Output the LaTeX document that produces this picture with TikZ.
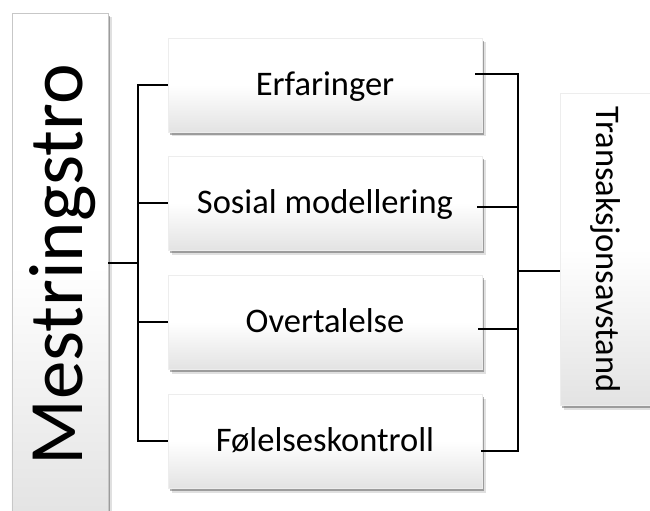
\documentclass[tikz,border=0pt]{standalone}
\usepackage{fontspec}
\setmainfont{Carlito}
\usetikzlibrary{shadows}
\begin{document}
\begin{tikzpicture}[x=1bp,y=-1bp,
  box/.style={inner sep=0pt, top color=white, bottom color=black!11, middle color=white,
    draw=black!7, line width=0.4bp,
    drop shadow={shadow xshift=3.5bp, shadow yshift=-4.5bp, opacity=0.12, fill=black},
    drop shadow={shadow xshift=2bp, shadow yshift=-3bp, opacity=0.3, fill=black}},
  conn/.style={line width=1.3bp, draw=black},
  midtext/.style={font=\fontsize{34.5bp}{40bp}\selectfont, text height=21.5bp, text depth=0bp},
  vtext/.style={inner sep=0pt, text depth=0bp}]
\clip (0,0) rectangle (650,511);
% left tall box
\node[box, draw=black!22, minimum width=96bp, minimum height=506bp] (mb) at (60,266) {};
\node[vtext, rotate=90, font=\fontsize{77bp}{80bp}\selectfont, text height=49.5bp] (mt) at (57.5,265) {Mestringstro};
% middle boxes
\node[box, midtext, minimum width=314bp, minimum height=94bp] (e) at (325,85) {Erfaringer};
\node[box, midtext, minimum width=314bp, minimum height=94bp] (s) at (325,203) {Sosial modellering};
\node[box, midtext, minimum width=314bp, minimum height=94bp] (o) at (325,322) {Overtalelse};
\node[box, midtext, minimum width=314bp, minimum height=94bp] (f) at (325,441) {Følelseskontroll};
% right box
\node[box, minimum width=92bp, minimum height=312bp] (t) at (606,249) {};
\node[vtext, rotate=-90, font=\fontsize{34.5bp}{40bp}\selectfont, text height=22bp] (tt) at (607.5,249.5) {Transaksjonsavstand};
% left bracket
\coordinate (lv) at (138,263);
\draw[conn] (mb.east |- lv) -- (lv);
\draw[conn] (e.west) -- (e.west -| lv) -- (f.west -| lv) -- (f.west);
\draw[conn] (s.west) -- (s.west -| lv);
\draw[conn] (o.west) -- (o.west -| lv);
% right bracket
\coordinate (rv) at (518,271);
\coordinate (ea) at ([xshift=-7bp,yshift=11bp]e.east);
\coordinate (sa) at ([xshift=-5bp,yshift=-4bp]s.east);
\coordinate (oa) at ([xshift=-4bp,yshift=-7bp]o.east);
\coordinate (fa) at ([xshift=-1bp,yshift=-10bp]f.east);
\draw[conn] (ea) -- (ea -| rv) -- (fa -| rv) -- (fa);
\draw[conn] (sa) -- (sa -| rv);
\draw[conn] (oa) -- (oa -| rv);
\draw[conn] (rv) -- (rv -| t.west);
\end{tikzpicture}
\end{document}
